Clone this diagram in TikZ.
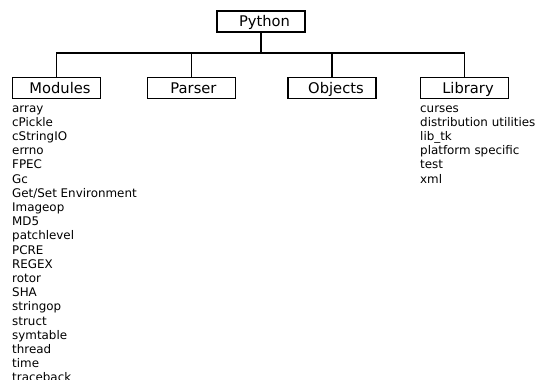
\documentclass[tikz,border=0pt]{standalone}
\usepackage{fontspec}
\setmainfont{DejaVu Sans}
\begin{document}
\begin{tikzpicture}[x=1pt,y=1pt,
  box/.style={draw, line width=1.6pt, minimum width=88pt, minimum height=21pt, inner sep=0pt,
    text height=10.7pt, text depth=0pt, font=\fontsize{14.7}{16}\selectfont},
  conn/.style={line width=1.8pt},
  item/.style={anchor=base west, inner sep=0pt, font=\fontsize{11.9}{14}\selectfont}]
\useasboundingbox (0,0) rectangle (539,-380);
\node[box] (py)  at (261,-21.5) {\hspace*{7pt}Python};
\node[box] (mod) at (56.5,-88) {\hspace*{7pt}Modules};
\node[box] (par) at (191.5,-88) {\hspace*{4pt}Parser};
\node[box] (obj) at (332,-88) {\hspace*{8pt}Objects};
\node[box] (lib) at (464.5,-88) {\hspace*{7pt}Library};
\coordinate (bus) at (0,-53);
\draw[conn] (py.south) -- (py.south |- bus);
\draw[conn] (mod.north) -- (mod.north |- bus) -- (lib.north |- bus) -- (lib.north);
\draw[conn] (par.north) -- (par.north |- bus);
\draw[conn] (obj.north) -- (obj.north |- bus);
\foreach \t [count=\i from 0] in {array,cPickle,cStringIO,errno,FPEC,Gc,Get/Set Environment,Imageop,MD5,patchlevel,PCRE,REGEX,rotor,SHA,stringop,struct,symtable,thread,time,traceback}
  \node[item] (m\i) at (12,-112-14.2*\i) {\t};
\foreach \t [count=\i from 0] in {curses,distribution utilities,lib\_tk,platform specific,test,xml}
  \node[item] (l\i) at (420,-112-14.2*\i) {\t};
\end{tikzpicture}
\end{document}
